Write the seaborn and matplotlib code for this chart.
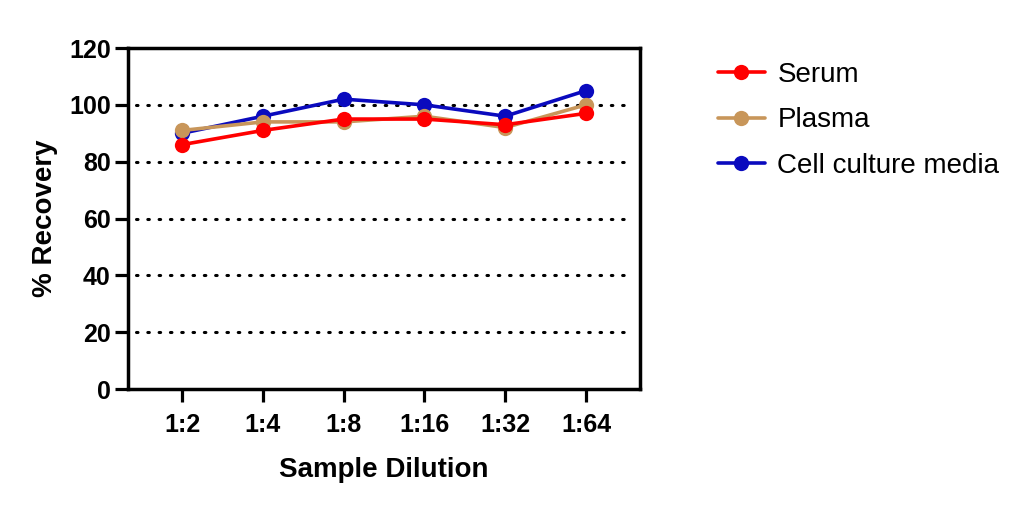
import matplotlib
matplotlib.use("Agg")
import matplotlib.pyplot as plt
import seaborn as sns

dilutions = ["1:2", "1:4", "1:8", "1:16", "1:32", "1:64"]
serum = [86, 91, 95, 95, 93, 97]
plasma = [91, 94, 94, 96, 92, 100]
cell_media = [90, 96, 102, 100, 96, 105]

series_names = ["Serum", "Plasma", "Cell culture media"]
series_colors = ["#FF0000", "#C8965A", "#0A0ABE"]
y_ticks = [0, 20, 40, 60, 80, 100, 120]

sns.set_style("white")
plt.rcParams["font.family"] = ["Liberation Sans", "DejaVu Sans"]
plt.rcParams["text.color"] = "black"
plt.rcParams["axes.labelcolor"] = "black"
plt.rcParams["xtick.color"] = "black"
plt.rcParams["ytick.color"] = "black"

fig = plt.figure(figsize=(10.31, 5.07), dpi=100)
ax = fig.add_axes([0.1242, 0.2327, 0.4966, 0.6726])

# draw blue first so red ends up on top, as in the original
series = [serum, plasma, cell_media]
for vals, name, col, z in zip(series, series_names, series_colors, [4, 3, 2]):
    sns.lineplot(x=dilutions, y=vals, ax=ax, color=col, marker="o", markersize=11,
                 markeredgewidth=0, linewidth=2.6, label=name, zorder=z, sort=False)

ax.set_xlim(-0.67, 5.67)
ax.set_ylim(0, 120)
ax.set_yticks(y_ticks)

for v in y_ticks[1:-1]:
    ax.axhline(v, color="black", linewidth=2.2, linestyle=(0, (0.5, 3.2)),
               dash_capstyle="round", zorder=1, xmin=0.015, xmax=0.985)

for s in ax.spines.values():
    s.set_linewidth(2.5)
    s.set_color("black")

ax.tick_params(axis="both", which="major", length=9.5, width=2.3, color="black",
               direction="out", labelsize=18, bottom=True, left=True)
ax.tick_params(axis="y", pad=3)
ax.tick_params(axis="x", pad=8)
for lab in ax.get_xticklabels() + ax.get_yticklabels():
    lab.set_fontweight("bold")

ax.set_xlabel("Sample Dilution", fontsize=20, fontweight="bold", labelpad=14)
ax.set_ylabel("% Recovery", fontsize=20, fontweight="bold", labelpad=8)

handles, labels = ax.get_legend_handles_labels()
ax.legend(handles, labels, loc="upper left", bbox_to_anchor=(0.696, 0.878),
          bbox_transform=fig.transFigure, frameon=False, fontsize=20,
          borderpad=0, borderaxespad=0, handlelength=1.7, handletextpad=0.45,
          labelspacing=0.7, labelcolor="black")

fig.savefig("out.png", dpi=100)
